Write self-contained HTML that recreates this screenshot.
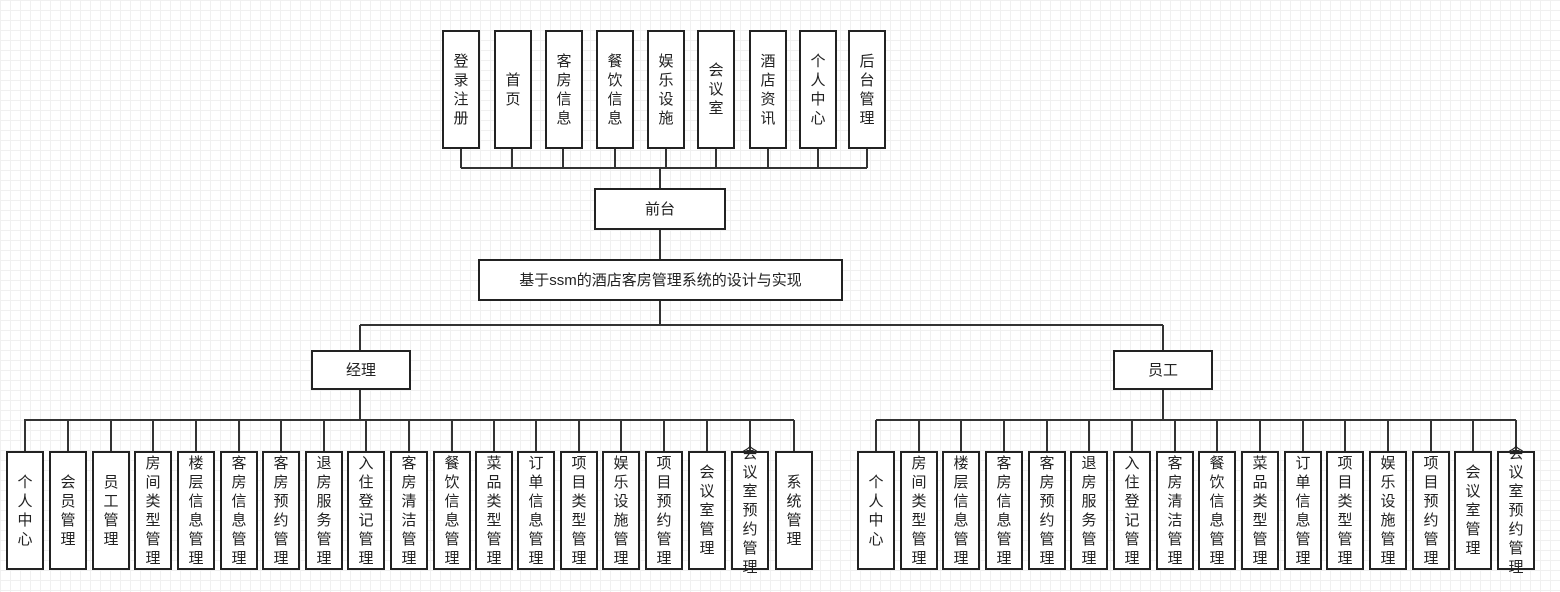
<!DOCTYPE html>
<html><head><meta charset="utf-8"><style>
body{margin:0;width:1560px;height:592px;overflow:hidden;background:#fff;
background-image:linear-gradient(#f0f0f0 1px,transparent 1px),linear-gradient(90deg,#f0f0f0 1px,transparent 1px);
background-size:10px 10px;position:relative;font-family:"Liberation Sans","Noto Sans CJK SC",sans-serif;}
.b{position:absolute;box-sizing:border-box;border:2px solid #222;background:#fff;display:flex;align-items:center;justify-content:center;text-align:center;color:#222;font-size:15px;line-height:19px;overflow:visible}
.v{width:38px;height:119px;top:451px}
.t{width:38px;height:119px;top:30px}
svg{position:absolute;left:0;top:0}
</style></head><body>
<svg width="1560" height="592" stroke="#333" stroke-width="2" fill="none">
<path d="M461 149V168M512 149V168M563 149V168M615 149V168M666 149V168M716 149V168M768 149V168M818 149V168M867 149V168M461 168H867M660 168V188M660 229V259M660 300V325M360 325H1163M360 325V350M1163 325V350M360 389V420M1163 389V420M24 420H794M876 420H1516"/>
<path d="M25 420V451M68 420V451M111 420V451M153 420V451M196 420V451M239 420V451M281 420V451M324 420V451M366 420V451M409 420V451M452 420V451M494 420V451M536 420V451M579 420V451M621 420V451M664 420V451M707 420V451M750 420V451M794 420V451"/>
<path d="M876 420V451M919 420V451M961 420V451M1004 420V451M1047 420V451M1089 420V451M1132 420V451M1175 420V451M1217 420V451M1260 420V451M1303 420V451M1345 420V451M1388 420V451M1431 420V451M1473 420V451M1516 420V451"/>
</svg>
<div class="b t" style="left:442px">登<br>录<br>注<br>册</div>
<div class="b t" style="left:494px">首<br>页</div>
<div class="b t" style="left:545px">客<br>房<br>信<br>息</div>
<div class="b t" style="left:596px">餐<br>饮<br>信<br>息</div>
<div class="b t" style="left:647px">娱<br>乐<br>设<br>施</div>
<div class="b t" style="left:697px">会<br>议<br>室</div>
<div class="b t" style="left:749px">酒<br>店<br>资<br>讯</div>
<div class="b t" style="left:799px">个<br>人<br>中<br>心</div>
<div class="b t" style="left:848px">后<br>台<br>管<br>理</div>
<div class="b" style="left:594px;top:188px;width:132px;height:42px">前台</div>
<div class="b" style="left:478px;top:259px;width:365px;height:42px;font-size:15px">基于ssm的酒店客房管理系统的设计与实现</div>
<div class="b" style="left:311px;top:350px;width:100px;height:40px">经理</div>
<div class="b" style="left:1113px;top:350px;width:100px;height:40px">员工</div>

<div class="b v" style="left:6px">个<br>人<br>中<br>心</div>
<div class="b v" style="left:49px">会<br>员<br>管<br>理</div>
<div class="b v" style="left:92px">员<br>工<br>管<br>理</div>
<div class="b v" style="left:134px">房<br>间<br>类<br>型<br>管<br>理</div>
<div class="b v" style="left:177px">楼<br>层<br>信<br>息<br>管<br>理</div>
<div class="b v" style="left:220px">客<br>房<br>信<br>息<br>管<br>理</div>
<div class="b v" style="left:262px">客<br>房<br>预<br>约<br>管<br>理</div>
<div class="b v" style="left:305px">退<br>房<br>服<br>务<br>管<br>理</div>
<div class="b v" style="left:347px">入<br>住<br>登<br>记<br>管<br>理</div>
<div class="b v" style="left:390px">客<br>房<br>清<br>洁<br>管<br>理</div>
<div class="b v" style="left:433px">餐<br>饮<br>信<br>息<br>管<br>理</div>
<div class="b v" style="left:475px">菜<br>品<br>类<br>型<br>管<br>理</div>
<div class="b v" style="left:517px">订<br>单<br>信<br>息<br>管<br>理</div>
<div class="b v" style="left:560px">项<br>目<br>类<br>型<br>管<br>理</div>
<div class="b v" style="left:602px">娱<br>乐<br>设<br>施<br>管<br>理</div>
<div class="b v" style="left:645px">项<br>目<br>预<br>约<br>管<br>理</div>
<div class="b v" style="left:688px">会<br>议<br>室<br>管<br>理</div>
<div class="b v" style="left:731px">会<br>议<br>室<br>预<br>约<br>管<br>理</div>
<div class="b v" style="left:775px">系<br>统<br>管<br>理</div>

<div class="b v" style="left:857px">个<br>人<br>中<br>心</div>
<div class="b v" style="left:900px">房<br>间<br>类<br>型<br>管<br>理</div>
<div class="b v" style="left:942px">楼<br>层<br>信<br>息<br>管<br>理</div>
<div class="b v" style="left:985px">客<br>房<br>信<br>息<br>管<br>理</div>
<div class="b v" style="left:1028px">客<br>房<br>预<br>约<br>管<br>理</div>
<div class="b v" style="left:1070px">退<br>房<br>服<br>务<br>管<br>理</div>
<div class="b v" style="left:1113px">入<br>住<br>登<br>记<br>管<br>理</div>
<div class="b v" style="left:1156px">客<br>房<br>清<br>洁<br>管<br>理</div>
<div class="b v" style="left:1198px">餐<br>饮<br>信<br>息<br>管<br>理</div>
<div class="b v" style="left:1241px">菜<br>品<br>类<br>型<br>管<br>理</div>
<div class="b v" style="left:1284px">订<br>单<br>信<br>息<br>管<br>理</div>
<div class="b v" style="left:1326px">项<br>目<br>类<br>型<br>管<br>理</div>
<div class="b v" style="left:1369px">娱<br>乐<br>设<br>施<br>管<br>理</div>
<div class="b v" style="left:1412px">项<br>目<br>预<br>约<br>管<br>理</div>
<div class="b v" style="left:1454px">会<br>议<br>室<br>管<br>理</div>
<div class="b v" style="left:1497px">会<br>议<br>室<br>预<br>约<br>管<br>理</div>
</body></html>
